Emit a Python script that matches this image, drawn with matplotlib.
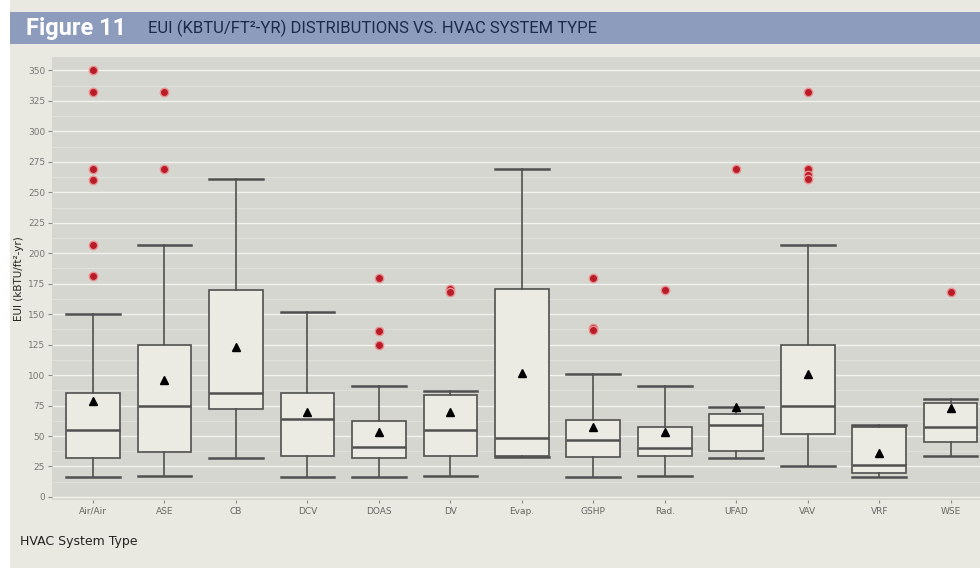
import matplotlib
matplotlib.use("Agg")
from matplotlib import pyplot as plt
from matplotlib.patches import Rectangle
from matplotlib.ticker import MultipleLocator

# summary statistics (kBTU/ft2-yr)
systems = ["Air/Air", "ASE", "CB", "DCV", "DOAS", "DV", "Evap.", "GSHP",
           "Rad.", "UFAD", "VAV", "VRF", "WSE"]
whisker_low = [16, 17, 32, 16, 16, 17, 33, 16, 17, 32, 25, 16, 34]
q1 = [32, 37, 72, 34, 32, 34, 34, 33, 34, 38, 52, 20, 45]
median = [55, 75, 85, 64, 41, 55, 48, 47, 40, 59, 75, 26, 57]
q3 = [85, 125, 170, 85, 62, 84, 171, 63, 57, 68, 125, 57, 77]
whisker_high = [150, 207, 261, 152, 91, 87, 269, 101, 91, 74, 207, 59, 80]
means = [79, 96, 123, 70, 53, 70, 102, 57, 53, 74, 101, 36, 73]
outliers = [
    [350, 332, 269, 260, 207, 181],
    [332, 269],
    [],
    [],
    [180, 136, 125],
    [171, 168],
    [],
    [180, 139, 137],
    [170],
    [269],
    [332, 269, 264, 261],
    [],
    [168],
]

bg = "#e9e9e1"
panel = "#d6d6d0"
line_col = "#505050"

fig = plt.figure(figsize=(9.8, 5.68), dpi=100, facecolor=bg)

# title banner
fig.patches.append(Rectangle((10 / 980, 1 - 44 / 568), 970 / 980, 32 / 568,
                             transform=fig.transFigure, facecolor="#8d9cbd",
                             edgecolor="none", zorder=-1))
fig.patches.append(Rectangle((0, 0), 10 / 980, 1, transform=fig.transFigure,
                             facecolor="white", edgecolor="none", zorder=-1))
narrow = ["Liberation Sans Narrow", "Roboto", "DejaVu Sans"]
fig.text(26 / 980, 1 - 28 / 568, "Figure 11", color="white", fontsize=17,
         fontweight="bold", family=narrow, va="center", ha="left")
fig.text(148 / 980, 1 - 28 / 568, "EUI (KBTU/FT²-YR) DISTRIBUTIONS VS. HVAC SYSTEM TYPE",
         color="#1c2a4a", fontsize=12, family=narrow, va="center", ha="left")

ax = fig.add_axes([52 / 980, 68 / 568, 928 / 980, 443 / 568])
ax.set_facecolor(panel)
for s in ax.spines.values():
    s.set_visible(False)

stats = []
for i, name in enumerate(systems):
    stats.append(dict(label=name, whislo=whisker_low[i], q1=q1[i], med=median[i],
                      q3=q3[i], whishi=whisker_high[i], mean=means[i],
                      fliers=outliers[i]))

ax.bxp(stats, positions=range(len(systems)), widths=0.75, patch_artist=True,
       showmeans=True, showfliers=True,
       boxprops=dict(facecolor="#ebebe4", edgecolor=line_col, linewidth=1.2),
       medianprops=dict(color=line_col, linewidth=1.8),
       whiskerprops=dict(color=line_col, linewidth=1.2),
       capprops=dict(color=line_col, linewidth=1.8),
       capwidths=0.75,
       meanprops=dict(marker="^", markerfacecolor="black", markeredgecolor="black",
                      markersize=6),
       flierprops=dict(marker="o", markerfacecolor="#b81c28", markeredgecolor="#e89090",
                       markeredgewidth=1.0, markersize=6))

ax.set_xlim(-0.573, 12.41)
ax.set_ylim(-2.5, 361)
ax.yaxis.set_major_locator(MultipleLocator(25))
ax.yaxis.set_minor_locator(MultipleLocator(12.5))
ax.grid(True, which="major", axis="y", color="#f2f2ee", linewidth=1.0, zorder=0)
ax.grid(True, which="minor", axis="y", color="#e2e2dd", linewidth=0.6, zorder=0)
ax.set_axisbelow(True)
ax.tick_params(axis="y", which="major", length=3, color="#888888",
               labelsize=6.5, labelcolor="#777777", pad=2)
ax.tick_params(axis="y", which="minor", length=0)
ax.tick_params(axis="x", length=2, color="#888888", labelsize=6.5,
               labelcolor="#666666", pad=3)
ax.set_xticks(range(len(systems)))
ax.set_xticklabels(systems)

ax.set_ylabel("EUI (kBTU/ft²-yr)", fontsize=7.5, color="#222222")
ax.yaxis.set_label_coords(-28 / 928, 0.5)
fig.text(20 / 980, 1 - 541 / 568, "HVAC System Type", fontsize=9, color="#222222",
         va="center", ha="left")

fig.savefig("out.png", dpi=100, facecolor=bg)
